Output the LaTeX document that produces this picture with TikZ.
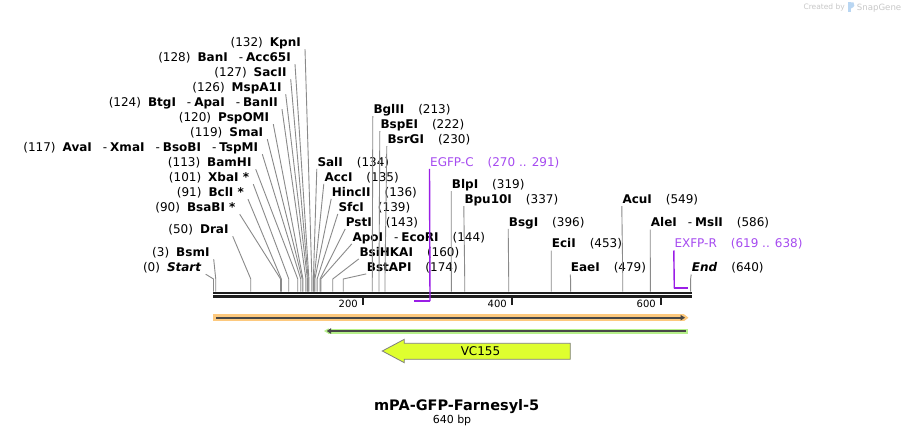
\documentclass[tikz,border=0pt]{standalone}
\usepackage{fontspec}
\setmainfont{DejaVu Sans}
\usetikzlibrary{arrows.meta}
\definecolor{sitegray}{HTML}{8A8A8A}
\definecolor{barc}{HTML}{1E1E1E}
\definecolor{primtxt}{HTML}{A64BF0}
\definecolor{primln}{HTML}{9A1EE6}
\definecolor{oglow}{HTML}{FDC97E}
\definecolor{gglow}{HTML}{B6F08A}
\definecolor{darkln}{HTML}{474747}
\definecolor{featfill}{HTML}{DFFF2F}
\definecolor{featdraw}{HTML}{7F7F7F}
\definecolor{logogray}{HTML}{C8C8C8}
\definecolor{logoblue}{HTML}{B9D6F2}
\newcommand{\Bn}[1]{\textbf{#1}}
\newcommand{\Hy}{\hspace{11pt}-\hspace{3pt}}
\newcommand{\Gl}{\hspace{7pt}}
\newcommand{\Gr}{\hspace{14pt}}
\newcommand{\cutsite}[2]{%
  \coordinate (k#2) at ({213.5+0.7455*#2},279);
  \coordinate (z#2) at ({213.5+0.7455*#2},291.5);
  \draw[site] (#1) -- (k#2) -- (z#2);}
\begin{document}
\begin{tikzpicture}[x=1pt,y=-1pt,
  lL/.style={anchor=base east, inner xsep=4pt, inner ysep=0pt, text height=9pt, text depth=2.6pt, font=\fontsize{12}{14}\selectfont},
  lR/.style={anchor=base west, inner xsep=0.5pt, inner ysep=0pt, text height=9pt, text depth=2.6pt, font=\fontsize{12}{14}\selectfont},
  site/.style={draw=sitegray, line width=0.9pt},
  primline/.style={draw=primln, line width=1.4pt},
  bar/.style={draw=barc},
  ticklab/.style={anchor=base east, inner sep=0pt, font=\fontsize{10}{12}\selectfont}]
\useasboundingbox (0,0) rectangle (905,436);
\fill[white] (0,0) rectangle (905,436);

% left labels
\node[lL] (kpn)  at (305,46.4)   {(132)\Gl\Bn{KpnI}};
\node[lL] (ban)  at (295,61.4)   {(128)\Gl\Bn{BanI}\Hy\Bn{Acc65I}};
\node[lL] (sac)  at (290.7,76.4) {(127)\Gl\Bn{SacII}};
\node[lL] (msp)  at (285.7,91.4) {(126)\Gl\Bn{MspA1I}};
\node[lL] (btg)  at (282,106.4)  {(124)\Gl\Bn{BtgI}\Hy\Bn{ApaI}\Hy\Bn{BanII}};
\node[lL] (psp)  at (273.3,121.4){(120)\Gl\Bn{PspOMI}};
\node[lL] (sma)  at (267.3,136.4){(119)\Gl\Bn{SmaI}};
\node[lL] (ava)  at (262.3,151.4){(117)\Gl\Bn{AvaI}\Hy\Bn{XmaI}\Hy\Bn{BsoBI}\Hy\Bn{TspMI}};
\node[lL] (bam)  at (255.7,166.4){(113)\Gl\Bn{BamHI}};
\node[lL] (xba)  at (253.3,181.4){(101)\Gl\Bn{XbaI *}};
\node[lL] (bcl)  at (248,196.4)  {(91)\Gl\Bn{BclI *}};
\node[lL] (bsab) at (239.7,211.4){(90)\Gl\Bn{BsaBI *}};
\node[lL] (dra)  at (232.7,233.4){(50)\Gl\Bn{DraI}};
\node[lL] (bsm)  at (213.7,256.4){(3)\Gl\Bn{BsmI}};
\node[lL] (start) at (205.7,271.4){(0)\Gl\textbf{\textit{Start}}};

% right labels
\node[lR] (sal)  at (316.8,166.1) {\Bn{SalI}\Gr(134)};
\node[lR] (acc)  at (323.8,181.1) {\Bn{AccI}\Gr(135)};
\node[lR] (hinc) at (331.2,196.1) {\Bn{HincII}\Gr(136)};
\node[lR] (sfc)  at (337.8,211.1) {\Bn{SfcI}\Gr(139)};
\node[lR] (pst)  at (345.2,226.1) {\Bn{PstI}\Gr(143)};
\node[lR] (apo)  at (351.8,241.1) {\Bn{ApoI}\Hy\Bn{EcoRI}\Gr(144)};
\node[lR] (bsih) at (358.8,256.1) {\Bn{BsiHKAI}\Gr(160)};
\node[lR] (bsta) at (366.2,271.1) {\Bn{BstAPI}\Gr(174)};
\node[lR] (bgl)  at (372.8,113.4) {\Bn{BglII}\Gr(213)};
\node[lR] (bspe) at (379.8,128.4) {\Bn{BspEI}\Gr(222)};
\node[lR] (bsrg) at (386.8,143.4) {\Bn{BsrGI}\Gr(230)};
\node[lR, text=primtxt] (egfp) at (429.5,166.1) {EGFP-C\Gr(270 .. 291)};
\node[lR] (blp)  at (451.2,188.4) {\Bn{BlpI}\Gr(319)};
\node[lR] (bpu)  at (463.8,203.4) {\Bn{Bpu10I}\Gr(337)};
\node[lR] (bsg)  at (508.2,226.1) {\Bn{BsgI}\Gr(396)};
\node[lR] (eci)  at (551.2,247.7) {\Bn{EciI}\Gr(453)};
\node[lR] (eae)  at (570.2,271.7) {\Bn{EaeI}\Gr(479)};
\node[lR] (acu)  at (621.8,203.4) {\Bn{AcuI}\Gr(549)};
\node[lR] (ale)  at (650.2,226.7) {\Bn{AleI}\Hy\Bn{MslI}\Gr(586)};
\node[lR, text=primtxt] (exfp) at (673.8,247.7) {EXFP-R\Gr(619 .. 638)};
\node[lR] (endl) at (691.2,271.7) {\textbf{\textit{End}}\Gr(640)};

% site connectors
\cutsite{kpn.south east}{132}
\cutsite{ban.south east}{128}
\cutsite{sac.south east}{127}
\cutsite{msp.south east}{126}
\cutsite{btg.south east}{124}
\cutsite{psp.south east}{120}
\cutsite{sma.south east}{119}
\cutsite{ava.south east}{117}
\cutsite{bam.south east}{113}
\cutsite{xba.south east}{101}
\cutsite{bcl.south east}{91}
\cutsite{bsab.south east}{90}
\cutsite{dra.south east}{50}
\cutsite{bsm.south east}{3}
\cutsite{start.south east}{0}
\cutsite{sal.south west}{134}
\cutsite{acc.south west}{135}
\cutsite{hinc.south west}{136}
\cutsite{sfc.south west}{139}
\cutsite{pst.south west}{143}
\cutsite{apo.south west}{144}
\cutsite{bsih.south west}{160}
\cutsite{bsta.south west}{174}
\cutsite{bgl.south west}{213}
\cutsite{bspe.south west}{222}
\cutsite{bsrg.south west}{230}
\cutsite{blp.south west}{319}
\cutsite{bpu.south west}{337}
\cutsite{bsg.south west}{396}
\cutsite{eci.south west}{453}
\cutsite{eae.south west}{479}
\cutsite{acu.south west}{549}
\cutsite{ale.south west}{586}
\cutsite{endl.south west}{640}

% sequence bar
\coordinate (barA1) at (213.3,293);
\coordinate (barB1) at (691.7,293);
\coordinate (barA2) at (213.3,296.5);
\coordinate (barB2) at (691.7,296.5);
\draw[bar, line width=2pt] (barA1) -- (barB1);
\draw[bar, line width=2.4pt] (barA2) -- (barB2);

% primers
\coordinate (gfpA) at (430,301);
\coordinate (gfpB) at (414.3,301);
\draw[primline] (egfp.south west) -- (gfpA);
\draw[primline, line width=2.2pt] (gfpA) -- (gfpB);
\coordinate (xfpA) at (674.3,288.3);
\coordinate (xfpB) at (688,288.3);
\draw[primline] (exfp.south west) -- (xfpA);
\draw[primline, line width=2.2pt] (xfpA) -- (xfpB);

% ticks
\coordinate (t2a) at (362.6,297.5); \coordinate (t2b) at (362.6,305);
\coordinate (t4a) at (511.6,297.5); \coordinate (t4b) at (511.6,305);
\coordinate (t6a) at (660.7,297.5); \coordinate (t6b) at (660.7,305);
\draw[bar, line width=2pt] (t2a) -- (t2b);
\draw[bar, line width=2pt] (t4a) -- (t4b);
\draw[bar, line width=2pt] (t6a) -- (t6b);
\node[ticklab] (l200) at (358,307.6) {200};
\node[ticklab] (l400) at (507,307.6) {400};
\node[ticklab] (l600) at (656,307.6) {600};

% features
\coordinate (oA) at (213.3,317.7); \coordinate (oB) at (688.5,317.7);
\coordinate (oC) at (216,317.7);   \coordinate (oD) at (685,317.7);
\draw[oglow, line width=6.5pt, -{Triangle[length=4.5pt,width=6.5pt]}] (oA) -- (oB);
\draw[darkln, line width=1.8pt, -{Triangle[length=4.5pt,width=5.5pt]}] (oC) -- (oD);
\coordinate (gA) at (324,331); \coordinate (gB) at (688.3,331);
\coordinate (gC) at (326.7,331); \coordinate (gD) at (686,331);
\draw[gglow, line width=5pt, {Triangle[length=4.5pt,width=5pt]}-] (gA) -- (gB);
\draw[darkln, line width=1.8pt, {Triangle[length=4.5pt,width=5.5pt]}-] (gC) -- (gD);

\draw[featdraw, fill=featfill, line width=0.8pt] (382.3,351) -- (404.3,339.3) -- (404.3,343.3) -- (570.3,343.3) -- (570.3,359.3) -- (404.3,359.3) -- (404.3,362.7) -- cycle;
\node[font=\fontsize{12}{14}\selectfont, inner sep=0pt] (vc) at (480.5,351) {VC155};

% title
\node[anchor=base, inner sep=0pt, font=\bfseries\fontsize{14.5}{17}\selectfont] (title) at (456.7,410.5) {mPA-GFP-Farnesyl-5};
\node[anchor=base, inner sep=0pt, font=\fontsize{11}{13}\selectfont] (bp) at (452,423.5) {640 bp};

% logo
\node[anchor=base east, inner sep=0pt, text=logogray, font=\fontsize{7.5}{9}\selectfont] (cre) at (845,10) {Created by};
\fill[logoblue] (848,2.5) rectangle (851,12.5);
\fill[logoblue] (851,2.5) -- (853.5,2.5) .. controls (855,4) and (855,7) .. (851,8.5) -- cycle;
\node[anchor=base west, inner sep=0pt, text=logogray, font=\fontsize{8.6}{10}\selectfont] (sg) at (856.7,10.3) {SnapGene};
\end{tikzpicture}
\end{document}
